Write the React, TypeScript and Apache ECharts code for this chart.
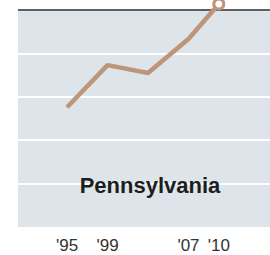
import React, { useEffect, useRef } from "react";
import * as echarts from "echarts";

const years = [1995, 1999, 2003, 2007, 2010];
const values = [27.6, 37.3, 35.5, 43.3, 51.4];
const tickYears = [1995, 1999, 2007, 2010];
const yTicks = [0, 10, 20, 30, 40, 50];
const title = "Pennsylvania";

const LINE = "#be9579";

export default function App() {
  const ref = useRef<HTMLDivElement>(null);
  useEffect(() => {
    document.body.style.margin = "0";
    const chart = echarts.init(ref.current!, null, { renderer: "svg" });
    const last = years.length - 1;
    chart.setOption({
      animation: false,
      grid: {
        left: 18,
        right: 0,
        top: 10,
        bottom: 28,
        show: true,
        backgroundColor: "#dde5ea",
        borderWidth: 0,
      },
      xAxis: {
        type: "value",
        min: 1990.15,
        max: 2015.06,
        axisLine: { show: false },
        axisTick: { show: false },
        splitLine: { show: false },
        axisLabel: {
          customValues: tickYears,
          formatter: (v: number) => "'" + String(v).slice(2),
          fontFamily: "Liberation Sans",
          fontSize: 17,
          color: "#333",
          margin: 10,
        },
      },
      yAxis: {
        type: "value",
        min: yTicks[0],
        max: yTicks[yTicks.length - 1],
        interval: 10,
        axisLine: { show: false },
        axisTick: { show: false },
        axisLabel: { show: false },
        splitLine: {
          show: true,
          lineStyle: {
            width: 2,
            color: ["transparent", "#ffffff", "#ffffff", "#ffffff", "#ffffff", "#5f5f5f"],
          },
        },
      },
      graphic: [
        {
          type: "text",
          x: 150,
          y: 185,
          z: 10,
          style: {
            text: title,
            fontFamily: "Liberation Sans",
            fontWeight: "bold",
            fontSize: 22,
            fill: "#1e1e1e",
            align: "center",
            verticalAlign: "middle",
          },
        },
      ],
      series: [
        {
          type: "line",
          data: years.map((y, i) => [y, values[i]]),
          clip: false,
          symbol: "circle",
          symbolSize: (_v: any, p: any) => (p.dataIndex === last ? 10 : 0),
          showSymbol: true,
          lineStyle: { color: LINE, width: 4.5 },
          itemStyle: { color: "#ffffff", borderColor: LINE, borderWidth: 3 },
          z: 5,
        },
      ],
    });
    return () => chart.dispose();
  }, []);
  return <div ref={ref} style={{ width: 270, height: 255 }} />;
}
